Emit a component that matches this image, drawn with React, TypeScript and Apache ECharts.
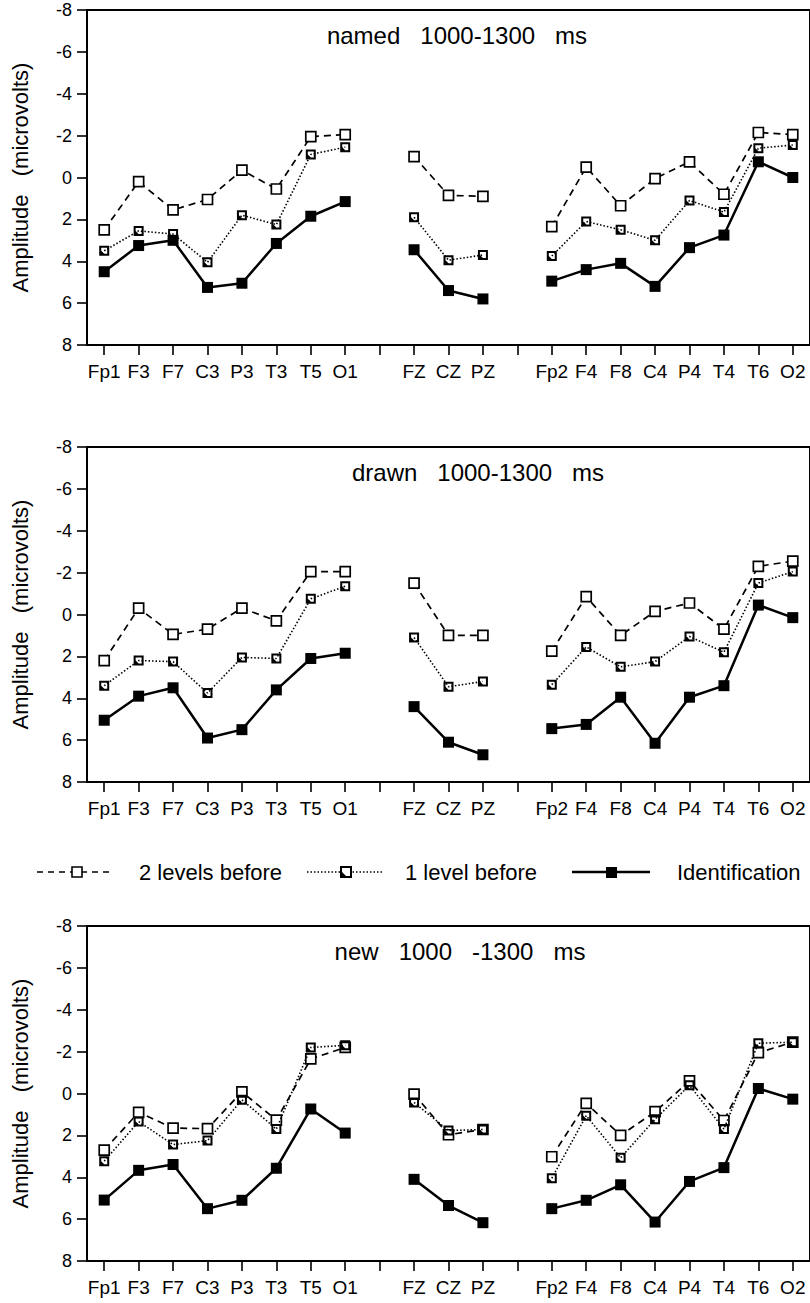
import React, { useEffect, useRef } from "react";
import * as echarts from "echarts";

const categories = [
  "Fp1", "F3", "F7", "C3", "P3", "T3", "T5", "O1", "",
  "FZ", "CZ", "PZ", "",
  "Fp2", "F4", "F8", "C4", "P4", "T4", "T6", "O2",
];

const panelTitles = ["named   1000-1300   ms", "drawn   1000-1300   ms", "new   1000   -1300   ms"];
const legendNames = ["2 levels before", "1 level before", "Identification"];
const yTickValues = [-8, -6, -4, -2, 0, 2, 4, 6, 8];

// named 1000-1300 ms
const namedTwoBefore = [2.5, 0.2, 1.55, 1.05, -0.35, 0.55, -1.95, -2.05, null, -1.0, 0.85, 0.9, null, 2.35, -0.5, 1.35, 0.05, -0.75, 0.8, -2.15, -2.05];
const namedOneBefore = [3.5, 2.55, 2.7, 4.05, 1.8, 2.25, -1.1, -1.45, null, 1.9, 3.95, 3.7, null, 3.75, 2.1, 2.5, 3.0, 1.1, 1.65, -1.4, -1.55];
const namedIdent = [4.5, 3.25, 3.0, 5.25, 5.05, 3.15, 1.85, 1.15, null, 3.45, 5.4, 5.8, null, 4.95, 4.4, 4.1, 5.2, 3.35, 2.75, -0.75, 0.0];

// drawn 1000-1300 ms
const drawnTwoBefore = [2.2, -0.3, 0.95, 0.7, -0.3, 0.3, -2.05, -2.05, null, -1.5, 1.0, 1.0, null, 1.75, -0.85, 1.0, -0.15, -0.55, 0.7, -2.3, -2.55];
const drawnOneBefore = [3.4, 2.2, 2.25, 3.75, 2.05, 2.1, -0.75, -1.35, null, 1.1, 3.45, 3.2, null, 3.35, 1.55, 2.5, 2.25, 1.05, 1.8, -1.5, -2.05];
const drawnIdent = [5.05, 3.9, 3.5, 5.9, 5.5, 3.6, 2.1, 1.85, null, 4.4, 6.1, 6.7, null, 5.45, 5.25, 3.95, 6.15, 3.95, 3.4, -0.45, 0.15];

// new 1000-1300 ms
const newTwoBefore = [2.7, 0.9, 1.65, 1.68, -0.08, 1.27, -1.65, -2.2, null, 0.03, 1.97, 1.72, null, 3.02, 0.47, 2.0, 0.87, -0.6, 1.29, -1.95, -2.45];
const newOneBefore = [3.23, 1.34, 2.44, 2.25, 0.3, 1.7, -2.2, -2.3, null, 0.43, 1.77, 1.72, null, 4.05, 1.06, 3.07, 1.23, -0.39, 1.7, -2.4, -2.45];
const newIdent = [5.09, 3.67, 3.39, 5.5, 5.1, 3.57, 0.74, 1.89, null, 4.1, 5.35, 6.17, null, 5.5, 5.1, 4.36, 6.14, 4.2, 3.54, -0.24, 0.27];

const panels = [
  [namedTwoBefore, namedOneBefore, namedIdent],
  [drawnTwoBefore, drawnOneBefore, drawnIdent],
  [newTwoBefore, newOneBefore, newIdent],
];

const FONT = '"Liberation Sans", Arial, Helvetica, sans-serif';
const PANEL_TOPS = [10, 447, 926];
const TITLE_X = [457, 478, 460];
const PANEL_H = 335;
const GRID_LEFT = 87;
const HALF_SQ = "path://M0,0L10,0L10,10L0,10Z M2,2L2,5L5,8L8,8L8,2Z";

export default function App() {
  const ref = useRef<HTMLDivElement>(null);

  useEffect(() => {
    if (!ref.current) return;
    const chart = echarts.init(ref.current, undefined, { renderer: "svg" });

    const grids = PANEL_TOPS.map((top) => ({
      left: GRID_LEFT,
      right: -2,
      top,
      height: PANEL_H,
      show: true,
      borderColor: "#000",
      borderWidth: 2,
      backgroundColor: "transparent",
    }));

    const xAxes = PANEL_TOPS.map((_, i) => ({
      type: "category",
      gridIndex: i,
      data: categories,
      boundaryGap: true,
      position: "bottom",
      axisLine: { show: true, onZero: false, lineStyle: { color: "#000", width: 2 } },
      axisTick: { show: true, alignWithLabel: true, length: 10, lineStyle: { color: "#000", width: 1.6 } },
      axisLabel: { interval: 0, color: "#000", fontSize: 19, fontFamily: FONT, margin: 17 },
      splitLine: { show: false },
    }));

    const yAxes = PANEL_TOPS.map((_, i) => ({
      type: "value",
      gridIndex: i,
      min: yTickValues[0],
      max: yTickValues[yTickValues.length - 1],
      interval: 2,
      inverse: true,
      name: "Amplitude   (microvolts)",
      nameLocation: "middle",
      nameRotate: 90,
      nameGap: 56,
      nameTextStyle: { color: "#000", fontSize: 22, fontFamily: FONT },
      axisLine: { show: true, lineStyle: { color: "#000", width: 2 } },
      axisTick: { show: true, length: 10, lineStyle: { color: "#000", width: 1.6 } },
      axisLabel: { color: "#000", fontSize: 18, fontFamily: FONT, margin: 15 },
      splitLine: { show: false },
    }));

    const series: any[] = [];
    panels.forEach((p, i) => {
      series.push({
        name: legendNames[0],
        type: "line",
        xAxisIndex: i,
        yAxisIndex: i,
        data: p[0],
        symbol: "rect",
        symbolSize: 10,
        itemStyle: { color: "#fff", borderColor: "#000", borderWidth: 1.7 },
        lineStyle: { color: "#000", width: 1.7, type: [7, 5] },
        connectNulls: false,
        z: 3,
      });
      series.push({
        name: legendNames[1],
        type: "line",
        xAxisIndex: i,
        yAxisIndex: i,
        data: p[1],
        symbol: HALF_SQ,
        symbolSize: 10,
        itemStyle: { color: "#000" },
        lineStyle: { color: "#000", width: 1.6, type: [1.5, 2] },
        connectNulls: false,
        z: 4,
      });
      series.push({
        name: legendNames[2],
        type: "line",
        xAxisIndex: i,
        yAxisIndex: i,
        data: p[2],
        symbol: "rect",
        symbolSize: 11,
        itemStyle: { color: "#000" },
        lineStyle: { color: "#000", width: 2.5, type: "solid" },
        connectNulls: false,
        z: 5,
      });
    });

    const titleGraphics = panelTitles.map((t, i) => ({
      type: "text",
      x: TITLE_X[i],
      y: PANEL_TOPS[i] + 25,
      style: { text: t, fill: "#000", font: `24px ${FONT}`, align: "center", verticalAlign: "middle" },
      z: 10,
    }));

    const LY = 872;
    const legendGraphics: any[] = [
      { type: "line", shape: { x1: 37, y1: LY, x2: 113, y2: LY }, style: { stroke: "#000", lineWidth: 1.6, lineDash: [6, 5] } },
      { type: "rect", shape: { x: 72, y: LY - 5, width: 10, height: 10 }, style: { fill: "#fff", stroke: "#000", lineWidth: 1.6 } },
      { type: "text", x: 139, y: LY, style: { text: legendNames[0], fill: "#000", font: `22px ${FONT}`, verticalAlign: "middle" } },
      { type: "line", shape: { x1: 307, y1: LY, x2: 382, y2: LY }, style: { stroke: "#000", lineWidth: 1.6, lineDash: [1.5, 2] } },
      { type: "rect", shape: { x: 341, y: LY - 5, width: 10, height: 10 }, style: { fill: "#fff", stroke: "#000", lineWidth: 2 } },
      { type: "polygon", shape: { points: [[342, LY], [342, LY + 4], [346, LY + 4]] }, style: { fill: "#000" } },
      { type: "text", x: 405, y: LY, style: { text: legendNames[1], fill: "#000", font: `22px ${FONT}`, verticalAlign: "middle" } },
      { type: "line", shape: { x1: 572, y1: LY, x2: 650, y2: LY }, style: { stroke: "#000", lineWidth: 2.5 } },
      { type: "rect", shape: { x: 606, y: LY - 5, width: 11, height: 11 }, style: { fill: "#000" } },
      { type: "text", x: 677, y: LY, style: { text: legendNames[2], fill: "#000", font: `22px ${FONT}`, verticalAlign: "middle" } },
    ];

    chart.setOption({
      animation: false,
      backgroundColor: "#fff",
      textStyle: { fontFamily: FONT },
      grid: grids,
      xAxis: xAxes,
      yAxis: yAxes,
      series,
      graphic: [...titleGraphics, ...legendGraphics],
    });

    return () => chart.dispose();
  }, []);

  return (
    <div
      ref={ref}
      style={{ position: "absolute", left: 0, top: 0, width: 810, height: 1303, background: "#fff" }}
    />
  );
}
